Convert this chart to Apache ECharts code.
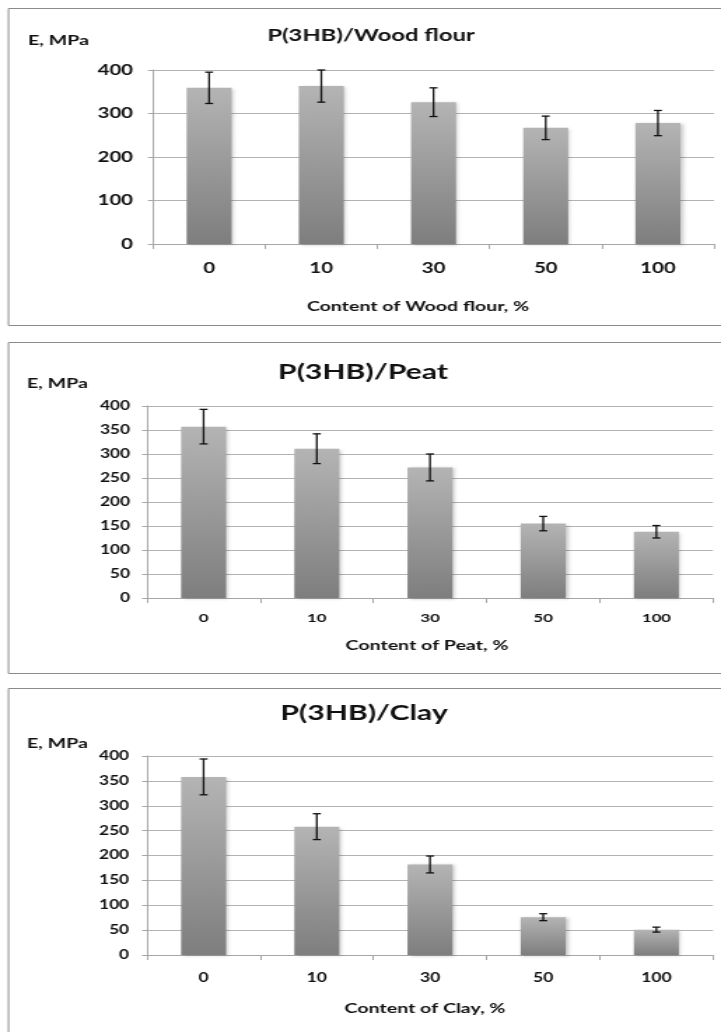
<!DOCTYPE html>
<html lang="en">
<head>
<meta charset="utf-8" />
<title>P(3HB) composites</title>
<script src="https://cdn.jsdelivr.net/npm/echarts@6/dist/echarts.min.js"></script>
<style>
  html, body { margin: 0; padding: 0; background: #fff; overflow: hidden; }
  /* the source figure is stretched horizontally, so draw narrow and stretch */
  #main { width: 515px; height: 1032px; transform: scaleX(1.4); transform-origin: 0 0; }
</style>
</head>
<body>
<div id="main"></div>
<script>
// content levels, %
var categories = ['0', '10', '30', '50', '100'];

// modulus E, MPa and error half-widths
var woodE = [359, 363, 326, 267, 278];
var woodErr = [36, 37, 33, 27, 29];
var peatE = [357, 311, 272, 155, 138];
var peatErr = [36, 31, 28, 15, 13];
var clayE = [358, 258, 182, 76, 51];
var clayErr = [36, 26, 17, 7, 5];

var titles = ['P(3HB)/Wood flour', 'P(3HB)/Peat', 'P(3HB)/Clay'];
var xNames = ['Content of Wood flour, %', 'Content of Peat, %', 'Content of Clay, %'];
var yTicks = [[0, 400, 100], [0, 400, 50], [0, 400, 50]];

var S = 1.4; // horizontal stretch
function X(px) { return px / S; }

var font = 'Lato, "Open Sans", sans-serif';

var myChart = echarts.init(document.getElementById('main'));

var barColor = new echarts.graphic.LinearGradient(0, 0, 0, 1, [
    {offset: 0, color: '#b4b4b4'},
    {offset: 1, color: '#7e7e7e'}
]);

function errData(vals, errs) {
    var out = [];
    for (var i = 0; i < vals.length; i++) {
        out.push([i, vals[i] - errs[i], vals[i] + errs[i]]);
    }
    return out;
}

function renderErr(params, api) {
    var lo = api.coord([api.value(0), api.value(1)]);
    var hi = api.coord([api.value(0), api.value(2)]);
    var w = X(4);
    var st = {stroke: '#111', lineWidth: 1.3};
    return {
        type: 'group',
        children: [
            {type: 'line', shape: {x1: hi[0], y1: hi[1], x2: lo[0], y2: lo[1]}, style: st},
            {type: 'line', shape: {x1: hi[0] - w, y1: hi[1], x2: hi[0] + w, y2: hi[1]}, style: st},
            {type: 'line', shape: {x1: lo[0] - w, y1: lo[1], x2: lo[0] + w, y2: lo[1]}, style: st}
        ]
    };
}

var grids = [
    {left: X(153), top: 70, width: X(561), height: 174},
    {left: X(147), top: 406, width: X(566), height: 192},
    {left: X(147), top: 756, width: X(566), height: 199}
];
var ySize = [14.5, 12.3, 12.3];
var xSize = [14.5, 12, 12.5];
var yMargin = [X(20), X(17), X(18)];
var xMargin = [17, 14, 16];

var xAxis = [], yAxis = [];
for (var g = 0; g < 3; g++) {
    xAxis.push({
        type: 'category',
        gridIndex: g,
        data: categories,
        axisLine: {lineStyle: {color: '#a6a6a6', width: 1}},
        axisTick: {show: true, length: 5, lineStyle: {color: '#a6a6a6'}},
        axisLabel: {fontFamily: font, fontWeight: 'bold', fontSize: xSize[g], color: '#111', margin: xMargin[g]},
        splitLine: {show: false}
    });
    yAxis.push({
        type: 'value',
        gridIndex: g,
        min: yTicks[g][0],
        max: yTicks[g][1],
        interval: yTicks[g][2],
        axisLine: {show: true, lineStyle: {color: '#a6a6a6', width: 1}},
        axisTick: {show: true, length: X(5), lineStyle: {color: '#a6a6a6'}},
        axisLabel: {fontFamily: font, fontWeight: 'bold', fontSize: ySize[g], color: '#111', margin: yMargin[g]},
        splitLine: {show: true, lineStyle: {color: '#b3b3b3', width: 1}}
    });
}

var vals = [woodE, peatE, clayE];
var errs = [woodErr, peatErr, clayErr];
var series = [];
for (var k = 0; k < 3; k++) {
    series.push({
        type: 'bar',
        xAxisIndex: k,
        yAxisIndex: k,
        barWidth: X(45),
        data: vals[k],
        itemStyle: {color: barColor, shadowColor: 'rgba(0,0,0,0.22)', shadowBlur: 3, shadowOffsetX: 1.5, shadowOffsetY: 1},
        emphasis: {disabled: true}
    });
    series.push({
        type: 'custom',
        xAxisIndex: k,
        yAxisIndex: k,
        data: errData(vals[k], errs[k]),
        renderItem: renderErr,
        z: 5
    });
}

function label(text, x, y, size, align) {
    return {
        type: 'text', x: x, y: y, z: 10,
        style: {
            text: text, fill: '#111', textAlign: align || 'center', textVerticalAlign: 'middle',
            font: 'bold ' + size + 'px ' + font
        }
    };
}

function frame(top, h) {
    return {type: 'rect', shape: {x: X(8.5), y: top + 0.5, width: 600, height: h},
        style: {fill: 'none', stroke: '#8c8c8c', lineWidth: 1}};
}

option = {
    animation: false,
    backgroundColor: '#fff',
    graphic: [
        frame(8, 317), frame(342, 331), frame(688, 360),
        label(titles[0], X(371), 36, 17),
        label(titles[1], X(363), 372, 21.5),
        label(titles[2], X(364), 713, 21.5),
        label('E, MPa', X(28), 40, 14, 'left'),
        label('E, MPa', X(27), 383, 14, 'left'),
        label('E, MPa', X(27), 743, 14, 'left'),
        label(xNames[0], X(418), 306, 14),
        label(xNames[1], X(427), 645, 14),
        label(xNames[2], X(425), 1008, 14)
    ],
    grid: grids,
    xAxis: xAxis,
    yAxis: yAxis,
    series: series
};

myChart.setOption(option);
</script>
</body>
</html>
